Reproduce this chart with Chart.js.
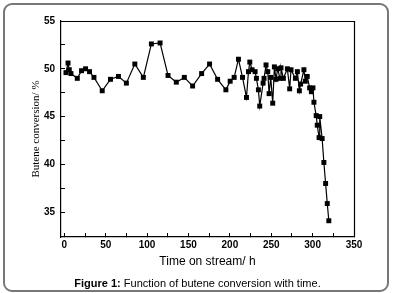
<!DOCTYPE html>
<html><head><meta charset="utf-8">
<script src="https://cdn.jsdelivr.net/npm/chart.js@4"></script>
<style>
html,body{margin:0;padding:0;background:#fff;}
#wrap{position:relative;width:395px;height:293px;overflow:hidden;}
#frame{position:absolute;left:3px;top:3px;width:382px;height:285px;border:2px solid #777;border-radius:9px;}
canvas{position:absolute;left:0;top:0;}
#cap{position:absolute;left:0;width:395px;top:277px;text-align:center;font:11px 'Liberation Sans',Arial,sans-serif;color:#000;white-space:nowrap;}
</style></head>
<body><div id="wrap"><div id="frame"></div><canvas id="c" width="395" height="293"></canvas><div id="cap"><b>Figure 1:</b> Function of butene conversion with time.</div></div>
<script>
const timeH = [2,4.5,6,8,15.7,20.8,25.7,30.5,35.8,45.8,55.8,65.4,75,85.2,95.5,105.2,115.7,125.3,135.3,145,155,165.9,175.5,185.2,195.2,200.4,205.2,210.4,215.3,220.1,222.5,224.1,226.9,230.5,232.1,234.5,236.1,240.2,241.3,243.7,245.8,247.4,249.4,251.8,253.8,255.8,257.8,260.6,261.8,264.7,269.5,272.3,273.9,279.2,281.6,284,285.5,289.5,291.2,293.5,296.4,298.5,300.4,301.6,304.3,305.6,307.8,308.6,311.5,313.6,315.7,317.7,319.6];
const conversion = [49.6,50.6,49.9,49.5,49.0,49.8,50.0,49.7,49.1,47.7,48.9,49.2,48.5,50.5,49.1,52.6,52.7,49.3,48.6,49.1,48.2,49.5,50.5,48.9,47.8,48.7,49.1,51.0,49.1,47.0,49.7,50.7,49.9,49.7,49.0,47.8,46.1,48.5,49.0,50.4,49.7,47.4,49.1,46.4,50.2,48.9,50.0,49.0,50.1,49.0,50.0,47.9,49.9,49.0,49.7,47.7,48.4,49.9,48.7,49.2,48.0,47.6,48.0,46.5,45.1,44.1,42.8,45.0,42.7,40.2,38.0,35.9,34.1];
const xTickValues = [0,25,50,75,100,125,150,175,200,225,250,275,300,325,350];
const xTickLabels = [0,50,100,150,200,250,300,350];
const yTickValues = [35,37.5,40,42.5,45,47.5,50,52.5,55];
const yTickLabels = [35,40,45,50,55];
const xTitle = 'Time on stream/ h';
const yTitle = 'Butene conversion/ %';

const tickFont = {family:"'Liberation Sans', Arial, sans-serif", size:10, weight:'bold'};

const boxPlugin = {
  id: 'plotBox',
  afterDatasetsDraw(chart) {
    const ctx = chart.ctx;
    const a = chart.chartArea;
    ctx.save();
    ctx.strokeStyle = '#000';
    ctx.lineWidth = 1.2;
    ctx.beginPath();
    ctx.moveTo(a.left, a.top + 0.5);
    ctx.lineTo(a.right + 0.5, a.top + 0.5);
    ctx.lineTo(a.right + 0.5, a.bottom);
    ctx.stroke();
    ctx.restore();
  }
};

new Chart(document.getElementById('c'), {
  type: 'scatter',
  data: { datasets: [{
    data: timeH.map((t,i)=>({x:t, y:conversion[i]})),
    showLine: true,
    borderColor: '#000',
    borderWidth: 1.2,
    tension: 0,
    pointStyle: 'rect',
    pointRadius: 3.5,
    pointHoverRadius: 3.5,
    pointBackgroundColor: '#000',
    pointBorderWidth: 0
  }]},
  plugins: [boxPlugin],
  options: {
    responsive: false,
    devicePixelRatio: 1,
    animation: false,
    events: [],
    layout: { padding: { top: 21, right: 41, left: 0, bottom: 0 } },
    plugins: { legend: {display:false}, tooltip: {enabled:false}, title:{display:false} },
    scales: {
      x: {
        type: 'linear', position: 'bottom', min: -4, max: 350,
        afterBuildTicks: s => { s.ticks = xTickValues.map(v=>({value:v})); },
        afterFit: s => { s.height = 56; },
        ticks: { autoSkip:false, maxRotation:0, color:'#000', font: tickFont, padding: 6,
          callback: v => xTickLabels.includes(v) ? String(v) : '' },
        grid: { drawOnChartArea:false, tickLength:-4, color:'#000', tickColor:'#000', tickWidth:1 },
        border: { display:true, color:'#000', width:1.2 },
        title: { display:true, text:xTitle, color:'#000', font:{family:"'Liberation Sans', Arial, sans-serif", size:12}, padding:{top:0,bottom:24} }
      },
      y: {
        type: 'linear', position: 'left', min: 32.4, max: 55,
        afterBuildTicks: s => { s.ticks = yTickValues.map(v=>({value:v})); },
        afterFit: s => { s.width = 61; },
        ticks: { autoSkip:false, color:'#000', font: tickFont, padding: 10,
          callback: v => yTickLabels.includes(v) ? String(v) : '' },
        grid: { drawOnChartArea:false, tickLength:-4, color:'#000', tickColor:'#000', tickWidth:1 },
        border: { display:true, color:'#000', width:1.2 },
        title: { display:true, text:yTitle, color:'#000', font:{family:"'Liberation Serif', 'Times New Roman', serif", size:11}, padding:{top:30,bottom:0} }
      }
    }
  }
});
</script>
</body></html>
